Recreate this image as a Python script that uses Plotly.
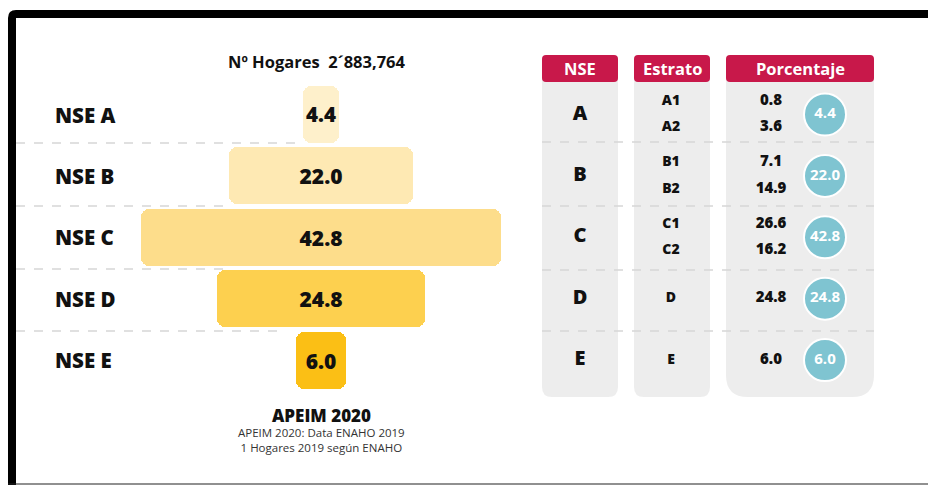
import plotly.graph_objects as go

# ---------------- data ----------------
categories = ["NSE A", "NSE B", "NSE C", "NSE D", "NSE E"]
nse_letters = ["A", "B", "C", "D", "E"]
values = [4.4, 22.0, 42.8, 24.8, 6.0]
strata = [["A1", "A2"], ["B1", "B2"], ["C1", "C2"], ["D"], ["E"]]
strata_values = [[0.8, 3.6], [7.1, 14.9], [26.6, 16.2], [24.8], [6.0]]
table_headers = ["NSE", "Estrato", "Porcentaje"]
total_label = "Nº Hogares  2´883,764"
footer_title = "APEIM 2020"
footer_lines = ["APEIM 2020: Data ENAHO 2019", "1 Hogares 2019 según ENAHO"]

# ---------------- styles ----------------
W, H = 928, 485
FONT = "Open Sans"
bar_colors = ["#FEF0CB", "#FEE9B3", "#FDDD8B", "#FDD04F", "#FBBF15"]
RED = "#C8184A"
GRAY = "#EDEDED"
TEAL = "#7FC4D1"
DASH = "#D6D6D6"
INK = "#111111"


def px(x):
    return x / W


def py(y):
    return 1 - y / H


def rrect(x0, y0, x1, y1, rt, rb):
    """Rounded rectangle path in paper coords (pixel inputs, y downwards)."""
    pts = [
        ("M", [(x0 + rt, y0)]),
        ("L", [(x1 - rt, y0)]),
        ("Q", [(x1, y0), (x1, y0 + rt)]),
        ("L", [(x1, y1 - rb)]),
        ("Q", [(x1, y1), (x1 - rb, y1)]),
        ("L", [(x0 + rb, y1)]),
        ("Q", [(x0, y1), (x0, y1 - rb)]),
        ("L", [(x0, y0 + rt)]),
        ("Q", [(x0, y0), (x0 + rt, y0)]),
    ]
    s = ""
    for cmd, ps in pts:
        s += cmd + " " + " ".join(f"{px(a):.5f},{py(b):.5f}" for a, b in ps) + " "
    return s + "Z"


idx = list(range(len(categories)))

fig = go.Figure()

# funnel bars (centered)
fig.add_trace(go.Bar(
    y=idx, x=values, base=[-v / 2 for v in values], orientation="h",
    width=0.93,
    marker=dict(color=bar_colors, cornerradius=8, line=dict(width=0)),
    text=[f"{v:.1f}" for v in values], textposition="inside", textangle=0,
    insidetextanchor="middle", constraintext="none",
    textfont=dict(family=FONT, size=21, color=INK, weight=800),
    xaxis="x", yaxis="y", hoverinfo="skip", showlegend=False,
))

# table: NSE letters
fig.add_trace(go.Scatter(
    x=[580] * len(idx), y=idx, text=nse_letters, mode="text",
    textfont=dict(family=FONT, size=20, color=INK, weight=800),
    xaxis="x2", yaxis="y", hoverinfo="skip", showlegend=False,
))

# table: strata & sub-percentages
sy, st, vt = [], [], []
for i, (ss, vs) in enumerate(zip(strata, strata_values)):
    offs = [-0.215, 0.215] if len(ss) == 2 else [0.0]
    for s, v, o in zip(ss, vs, offs):
        sy.append(i + o)
        st.append(s)
        vt.append(f"{v:.1f}")
fig.add_trace(go.Scatter(
    x=[671] * len(sy), y=sy, text=st, mode="text",
    textfont=dict(family=FONT, size=14, color=INK, weight=800),
    xaxis="x2", yaxis="y", hoverinfo="skip", showlegend=False,
))
fig.add_trace(go.Scatter(
    x=[771] * len(sy), y=sy, text=vt, mode="text",
    textfont=dict(family=FONT, size=15, color=INK, weight=800),
    xaxis="x2", yaxis="y", hoverinfo="skip", showlegend=False,
))

# circles with totals
fig.add_trace(go.Scatter(
    x=[825] * len(idx), y=idx, mode="markers+text",
    text=[f"{v:.1f}" for v in values], textposition="middle center",
    marker=dict(size=42, color=TEAL, line=dict(color="white", width=2)),
    textfont=dict(family=FONT, size=15, color="white", weight="bold"),
    xaxis="x2", yaxis="y", hoverinfo="skip", showlegend=False,
))

shapes = []
cols = [(542, 618, 10), (634, 710, 10), (726, 874, 22)]
for x0, x1, rb in cols:
    shapes.append(dict(type="path", path=rrect(x0, 70, x1, 397, 0, rb),
                       xref="paper", yref="paper", fillcolor=GRAY,
                       line=dict(width=0), layer="below"))
for x0, x1, _ in cols:
    shapes.append(dict(type="path", path=rrect(x0, 55, x1, 82, 4, 4),
                       xref="paper", yref="paper", fillcolor=RED,
                       line=dict(width=0), layer="below"))
for yy in [142, 206, 270, 331]:
    shapes.append(dict(type="line", x0=px(542), x1=px(874), y0=py(yy), y1=py(yy),
                       xref="paper", yref="paper",
                       line=dict(color=DASH, width=1.3, dash="dash"), layer="below"))
for yy, xe in [(143, 300), (206, 223), (269, 223), (331, 278)]:
    shapes.append(dict(type="line", x0=px(16), x1=px(xe), y0=py(yy), y1=py(yy),
                       xref="paper", yref="paper",
                       line=dict(color=DASH, width=1.3, dash="dash"), layer="below"))
frame = (f"M {px(12):.5f},{py(490):.5f} L {px(12):.5f},{py(18):.5f} "
         f"Q {px(12):.5f},{py(14):.5f} {px(16):.5f},{py(14):.5f} "
         f"L {px(935):.5f},{py(14):.5f}")
shapes.append(dict(type="path", path=frame, xref="paper", yref="paper",
                   line=dict(color="#000000", width=8), layer="above"))
shapes.append(dict(type="line", x0=px(8), x1=px(935), y0=py(484), y1=py(484),
                   xref="paper", yref="paper",
                   line=dict(color="#222222", width=1.2), layer="above"))

annotations = []
for i, c in enumerate(categories):
    annotations.append(dict(x=px(53), y=i, xref="paper", yref="y", xanchor="left",
                            yanchor="middle", text=c, showarrow=False,
                            font=dict(family=FONT, size=20.5, color=INK, weight=800)))
for (x0, x1, _), h in zip(cols, table_headers):
    annotations.append(dict(x=px((x0 + x1) / 2), y=py(69), xref="paper", yref="paper",
                            xanchor="center", yanchor="middle", text=h,
                            showarrow=False,
                            font=dict(family=FONT, size=16.5, color="white", weight="bold")))
annotations.append(dict(x=px(317), y=py(62), xref="paper", yref="paper",
                        xanchor="center", yanchor="middle", text=total_label,
                        showarrow=False,
                        font=dict(family=FONT, size=16.5, color=INK, weight="bold")))
annotations.append(dict(x=px(321), y=py(415), xref="paper", yref="paper",
                        xanchor="center", yanchor="middle", text=footer_title,
                        showarrow=False,
                        font=dict(family=FONT, size=17, color=INK, weight=800)))
annotations.append(dict(x=px(321), y=py(440), xref="paper", yref="paper",
                        xanchor="center", yanchor="middle", text="<br>".join(footer_lines),
                        showarrow=False,
                        font=dict(family=FONT, size=11.5, color="#333333")))

R = 305 / 8.4
fig.update_layout(
    width=W, height=H, margin=dict(l=0, r=0, t=0, b=0),
    paper_bgcolor="white", plot_bgcolor="rgba(0,0,0,0)",
    xaxis=dict(domain=[px(16), px(626)], range=[-R, R], visible=False, fixedrange=True),
    xaxis2=dict(domain=[0, 1], range=[0, W], visible=False, anchor="y", fixedrange=True),
    yaxis=dict(domain=[0, 1], range=[(H - 114.5) / 61.4, -114.5 / 61.4],
               visible=False, fixedrange=True),
    shapes=shapes, annotations=annotations,
    bargap=0, showlegend=False,
)

fig.write_html(
    "out.html",
    config={"displayModeBar": False},
    post_script="document.body.style.margin='0px';document.body.style.overflow='hidden';",
)
